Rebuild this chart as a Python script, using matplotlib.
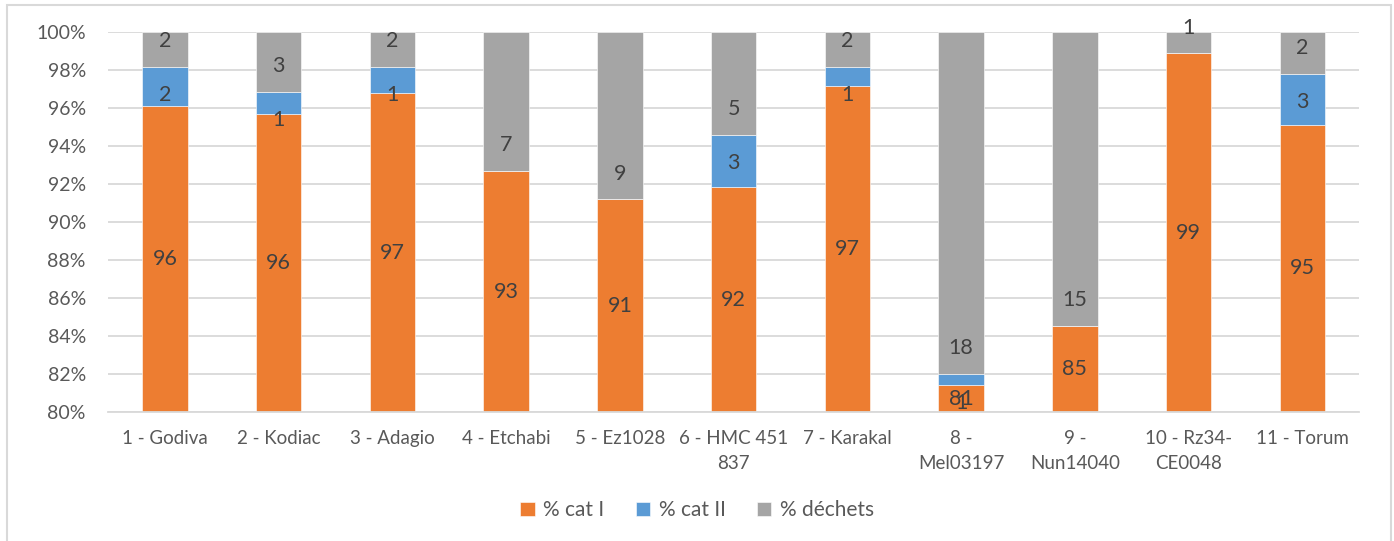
import matplotlib.pyplot as plt
import matplotlib.patches as mpatches
import numpy as np

varietes = ['1 - Godiva', '2 - Kodiac', '3 - Adagio', '4 - Etchabi', '5 - Ez1028',
            '6 - HMC 451\n837', '7 - Karakal', '8 -\nMel03197', '9 -\nNun14040',
            '10 - Rz34-\nCE0048', '11 - Torum']
cat1 = [96.1, 95.67, 96.77, 92.68, 91.19, 91.84, 97.16, 81.42, 84.54, 98.88, 95.12]
cat2 = [2.07, 1.19, 1.4, 0, 0, 2.76, 1.0, 0.58, 0, 0, 2.68]
dechets = [1.83, 3.14, 1.83, 7.32, 8.81, 5.4, 1.84, 18.0, 15.46, 1.12, 2.2]

plt.rcParams['font.family'] = ['Lato', 'DejaVu Sans']

c_orange = '#ED7D31'
c_blue = '#5B9BD5'
c_grey = '#A5A5A5'
txt = '#595959'
lab = '#404040'

fig = plt.figure(figsize=(13.94, 5.41), dpi=100)
ax = fig.add_axes([0.0775, 0.2384, 0.8975, 0.7025])

x = np.arange(len(varietes))
cat1 = np.array(cat1)
cat2 = np.array(cat2)
dechets = np.array(dechets)
w = 0.4
ymin = 80

b1 = ax.bar(x, cat1, w, color=c_orange, label='% cat I', zorder=2, edgecolor='white', linewidth=0.4)
b2 = ax.bar(x, cat2, w, bottom=cat1, color=c_blue, label='% cat II', zorder=2, edgecolor='white', linewidth=0.4)
b3 = ax.bar(x, dechets, w, bottom=cat1 + cat2, color=c_grey, label='% déchets', zorder=2, edgecolor='white', linewidth=0.4)

# data labels (placed the way Excel did it on a clipped axis)
for i in range(len(x)):
    ax.text(x[i], (ymin + cat1[i]) / 2, '%d' % round(cat1[i]), ha='center', va='center',
            fontsize=15.5, color=lab, zorder=3)
    if cat2[i] > 0:
        top = cat1[i] + cat2[i]
        ax.text(x[i], top - 1.5, '%d' % round(cat2[i]), ha='center', va='center',
                fontsize=15.5, color=lab, zorder=3)
    if dechets[i] > 0:
        bot = cat1[i] + cat2[i]
        ax.text(x[i], bot + 1.35, '%d' % round(dechets[i]), ha='center', va='center',
                fontsize=15.5, color=lab, zorder=3)

ax.set_ylim(ymin, 100)
ax.set_xlim(-0.5, len(x) - 0.5)
ax.set_yticks(np.arange(80, 101, 2))
ax.set_yticklabels(['%d%%' % v for v in range(80, 101, 2)])
ax.set_xticks(x)
ax.set_xticklabels(varietes, linespacing=1.6)
ax.tick_params(axis='y', length=0, pad=16, labelsize=14, labelcolor=txt)
ax.tick_params(axis='x', length=0, pad=13, labelsize=13.5, labelcolor=txt)
for lbl in ax.get_xticklabels():
    lbl.set_verticalalignment('top')

ax.grid(axis='y', color='#D9D9D9', linewidth=1.3, zorder=0)
for s in ['top', 'right', 'left']:
    ax.spines[s].set_visible(False)
ax.spines['bottom'].set_color('#D9D9D9')
ax.spines['bottom'].set_linewidth(1.3)

fig.legend(handles=[b1, b2, b3], loc='center', bbox_to_anchor=(0.5, 0.057), ncol=3,
           frameon=False, fontsize=15, labelcolor=txt, handlelength=0.7, handleheight=0.7,
           columnspacing=1.5, handletextpad=0.4)

# chart area border
fig.add_artist(mpatches.Rectangle((7 / 1394, -0.05), 1384 / 1394, 1.05 - 5 / 541,
                                  transform=fig.transFigure, fill=False,
                                  edgecolor='#D9D9D9', linewidth=1.5))

fig.savefig('out.png', dpi=100)
